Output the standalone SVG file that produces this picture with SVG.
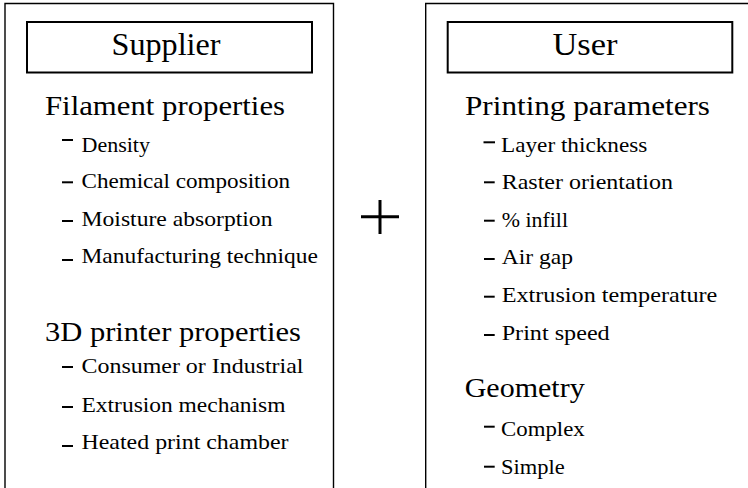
<svg xmlns="http://www.w3.org/2000/svg" width="748" height="488" viewBox="0 0 748 488">
  <style>
    text { font-family: "Liberation Serif", "DejaVu Serif", "Noto Serif", "Tinos", "Nimbus Roman", "FreeSerif", "Times New Roman", Times, serif; fill: #000; }
    .title { font-size: 31px; text-anchor: middle; }
    .head { font-size: 27px; }
    .item { font-size: 22px; }
    .outer { fill: none; stroke: #000; stroke-width: 1.4; }
    .inner { fill: none; stroke: #000; stroke-width: 2; }
    .dash { stroke: #000; stroke-width: 2; }
  </style>
  <rect width="748" height="488" fill="#fff"/>

  <g id="supplier">
    <polyline class="outer" points="5,490 5,3.5 333.5,3.5 333.5,490"/>
    <rect class="inner" x="27" y="22" width="285" height="50.5"/>
    <text class="title" x="166" y="55" textLength="109" lengthAdjust="spacingAndGlyphs">Supplier</text>

    <text class="head" x="45" y="115" textLength="240" lengthAdjust="spacingAndGlyphs">Filament properties</text>
    <line class="dash" x1="62" y1="140" x2="73" y2="140"/>
    <text class="item" x="81.5" y="151.7" textLength="68.5" lengthAdjust="spacingAndGlyphs">Density</text>
    <line class="dash" x1="62" y1="182.3" x2="73" y2="182.3"/>
    <text class="item" x="81.5" y="188.3" textLength="208.5" lengthAdjust="spacingAndGlyphs">Chemical composition</text>
    <line class="dash" x1="62" y1="221" x2="73" y2="221"/>
    <text class="item" x="81.5" y="225.7" textLength="191" lengthAdjust="spacingAndGlyphs">Moisture absorption</text>
    <line class="dash" x1="62" y1="260" x2="73" y2="260"/>
    <text class="item" x="81.5" y="263.3" textLength="236.5" lengthAdjust="spacingAndGlyphs">Manufacturing technique</text>

    <text class="head" x="45" y="341" textLength="256" lengthAdjust="spacingAndGlyphs">3D printer properties</text>
    <line class="dash" x1="62" y1="367" x2="73" y2="367"/>
    <text class="item" x="81.5" y="373.3" textLength="222" lengthAdjust="spacingAndGlyphs">Consumer or Industrial</text>
    <line class="dash" x1="62" y1="407" x2="73" y2="407"/>
    <text class="item" x="81.5" y="411.7" textLength="204" lengthAdjust="spacingAndGlyphs">Extrusion mechanism</text>
    <line class="dash" x1="62" y1="446" x2="73" y2="446"/>
    <text class="item" x="81.5" y="449.3" textLength="207" lengthAdjust="spacingAndGlyphs">Heated print chamber</text>
  </g>

  <g id="plus">
    <line x1="380" y1="200" x2="380" y2="234" stroke="#000" stroke-width="3"/>
    <line x1="361" y1="216.7" x2="399" y2="216.7" stroke="#000" stroke-width="3"/>
  </g>

  <g id="user">
    <polyline class="outer" points="425.7,490 425.7,3.5 750,3.5"/>
    <rect class="inner" x="447.7" y="22" width="284.6" height="50.5"/>
    <text class="title" x="585" y="55" textLength="65" lengthAdjust="spacingAndGlyphs">User</text>

    <text class="head" x="465" y="115" textLength="245" lengthAdjust="spacingAndGlyphs">Printing parameters</text>
    <line class="dash" x1="483.5" y1="142.3" x2="495" y2="142.3"/>
    <text class="item" x="501" y="151.7" textLength="146.3" lengthAdjust="spacingAndGlyphs">Layer thickness</text>
    <line class="dash" x1="484" y1="182.3" x2="494.7" y2="182.3"/>
    <text class="item" x="501.7" y="189.3" textLength="171.3" lengthAdjust="spacingAndGlyphs">Raster orientation</text>
    <line class="dash" x1="484" y1="220.7" x2="494.7" y2="220.7"/>
    <text class="item" x="501.7" y="226.7" textLength="66.3" lengthAdjust="spacingAndGlyphs">% infill</text>
    <line class="dash" x1="484" y1="259" x2="494.7" y2="259"/>
    <text class="item" x="501.7" y="264" textLength="71.3" lengthAdjust="spacingAndGlyphs">Air gap</text>
    <line class="dash" x1="484" y1="296.7" x2="494.7" y2="296.7"/>
    <text class="item" x="501.7" y="301.7" textLength="215.6" lengthAdjust="spacingAndGlyphs">Extrusion temperature</text>
    <line class="dash" x1="484" y1="335" x2="494.7" y2="335"/>
    <text class="item" x="501.7" y="340" textLength="108" lengthAdjust="spacingAndGlyphs">Print speed</text>

    <text class="head" x="464.7" y="396.7" textLength="120" lengthAdjust="spacingAndGlyphs">Geometry</text>
    <line class="dash" x1="484" y1="426.7" x2="494.7" y2="426.7"/>
    <text class="item" x="501" y="436" textLength="83.7" lengthAdjust="spacingAndGlyphs">Complex</text>
    <line class="dash" x1="484" y1="466.7" x2="494.7" y2="466.7"/>
    <text class="item" x="501" y="474" textLength="63.7" lengthAdjust="spacingAndGlyphs">Simple</text>
  </g>
</svg>
